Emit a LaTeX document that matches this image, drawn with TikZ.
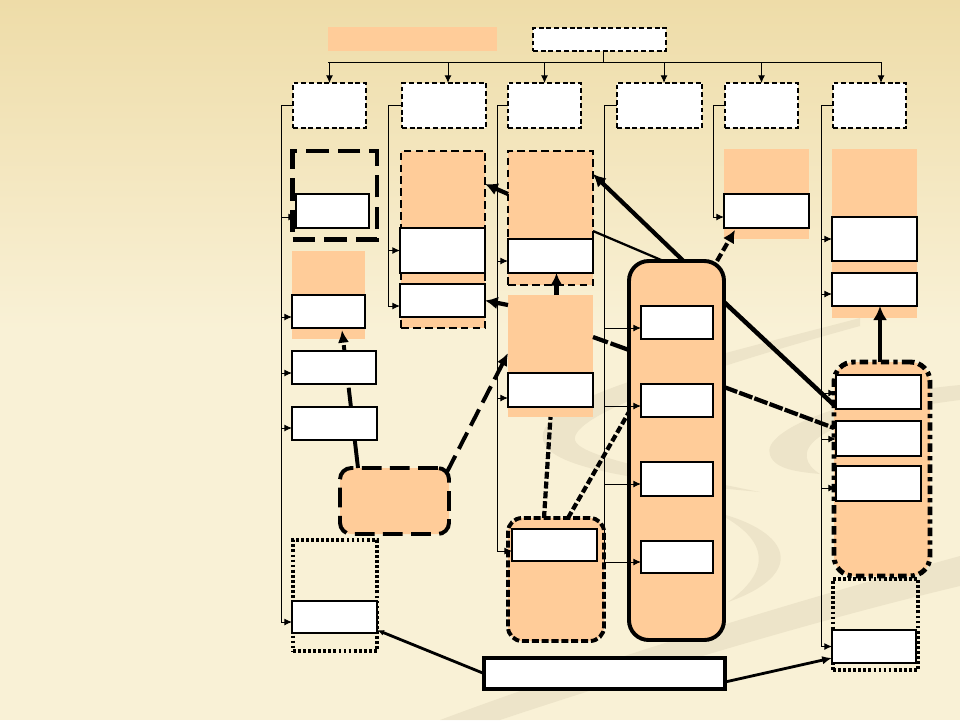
\documentclass[tikz,border=0pt]{standalone}
\usepackage{tikz}
\usetikzlibrary{arrows.meta}
\usetikzlibrary{calc}
\usetikzlibrary{positioning}
\usetikzlibrary{fit}

\definecolor{peach}{HTML}{FFCC99}
\definecolor{paper}{HTML}{F9F1D6}
\definecolor{sand}{HTML}{EEDCA8}
\definecolor{swirl}{HTML}{D9CEB2}

\begin{document}
\begin{tikzpicture}[
  x=0.25mm, y=-0.25mm,
  > = {Latex[length=5.5pt,width=5pt]},
  box/.style = {inner sep=0pt, outer sep=0pt},
  wbox/.style = {box, draw, fill=white, line width=0.9pt},
  hbox/.style = {box, draw, fill=white, line width=0.8pt, dash pattern=on 3.5pt off 2pt},
  pbox/.style = {box, fill=peach},
  dpbox/.style = {pbox, draw, line width=1.6pt, dash pattern=on 5.5pt off 3pt},
  dotbox/.style = {box, draw, line width=2.8pt, dash pattern=on 2pt off 1.6pt},
  wire/.style = {line width=0.7pt},
  feed/.style = {wire, ->},
  heavy/.style = {line width=3pt, -{Latex[length=9pt,width=9pt]}},
  chain/.style = {line width=3pt, dash pattern=on 5pt off 2pt},
  faint/.style = {swirl, opacity=0.35}
  ]
	\useasboundingbox (0,0) rectangle (960,720);

	% background
	\shade[top color=sand, bottom color=paper] (0,0) rectangle (960,330);
	\fill[paper] (0,329) rectangle (960,720);
	\fill[faint] (440,720) .. controls (600,660) and (800,600) .. (960,556) -- (960,586) .. controls (800,624) and (620,680) .. (500,720) -- cycle;
	\fill[faint] (860,318) .. controls (700,360) and (520,400) .. (545,445) .. controls (560,470) and (650,482) .. (760,492) .. controls (650,470) and (578,455) .. (575,440) .. controls (570,415) and (700,370) .. (860,326) -- cycle;
	\fill[faint] (960,385) .. controls (850,395) and (760,430) .. (770,455) .. controls (775,470) and (800,472) .. (820,474) .. controls (790,455) and (800,420) .. (960,400) -- cycle;
	\fill[faint] (715,512) .. controls (795,532) and (805,575) .. (728,602) .. controls (770,572) and (772,540) .. (715,512) -- cycle;

	% top
	\node[pbox, fit={(328,27) (497,51)}] (title) {};
	\node[hbox, fit={(533,28) (666,51)}] (top) {};

	\node[hbox, fit={(293,83) (366,128)}] (h1) {};
	\node[hbox, fit={(402,83) (486,128)}] (h2) {};
	\node[hbox, fit={(508,83) (581,128)}] (h3) {};
	\node[hbox, fit={(617,83) (702,128)}] (h4) {};
	\node[hbox, fit={(725,83) (798,128)}] (h5) {};
	\node[hbox, fit={(833,83) (906,128)}] (h6) {};

	\coordinate (busL) at (328,62);
	\coordinate (busR) at (881,62);
	\draw[wire] ([xshift=1.1mm]top.south) -- ([xshift=1.1mm]top.south |- busL);
	\draw[wire] (busL) -- (busR);
	\foreach \h/\d in {h1/0,h2/4,h3/0,h4/4.5,h5/0,h6/11.5} {
		\coordinate (tip) at ([xshift=\d*0.25mm]\h.north);
		\draw[feed] (tip |- busL) -- (tip);
	}

	\coordinate (t1) at (281,0);
	\coordinate (t2) at (388,0);
	\coordinate (t3) at (497,0);
	\coordinate (t4) at (604,0);
	\coordinate (t5) at (713,0);
	\coordinate (t6) at (821,0);

	% groups
	\node[box, draw, line width=3.5pt, dash pattern=on 16pt off 6.5pt, fit={(292.5,151) (377,239.5)}] (f1) {};
	\node[pbox, fit={(292,251) (365,339)}] (o1) {};
	\node[pbox, draw, line width=2.8pt, rounded corners=8pt, dash pattern=on 14pt off 6pt, fit={(340,468) (449,534)}] (r1) {};
	\node[dotbox, fit={(293,540) (377,651)}] (p1) {};
	\node[dpbox, fit={(401,151) (485,328)}] (d2) {};
	\node[dpbox, fit={(508,151) (593,285)}] (d3) {};
	\node[pbox, fit={(508,295) (593,417)}] (o3) {};
	\node[pbox, draw, line width=2.8pt, rounded corners=10pt, dash pattern=on 5pt off 2pt, fit={(508,518) (604,641)}] (r3) {};
	\node[pbox, draw, line width=2.8pt, rounded corners=14pt, fit={(629,261) (724,640)}] (core) {};
	\node[pbox, fit={(724,149) (809,239)}] (o5) {};
	\node[pbox, fit={(832,149) (917,318)}] (o6) {};
	\node[pbox, draw, line width=3.5pt, rounded corners=14pt, dash pattern=on 6pt off 3pt on 3pt off 3pt, fit={(834,362) (930,576)}] (r6) {};
	\node[dotbox, fit={(833,579) (918,670)}] (p6) {};

	\draw[line width=2.8pt, dash pattern=on 27pt off 3.5pt, -{Latex[length=9pt,width=8pt]}] ($(r1.north west)+(18,0)$) -- ($(o1.south)+(13.5,-9)$);

	% boxes
	\node[wbox, fit={(296,194) (369,228)}] (w11) {};
	\node[wbox, fit={(292,295) (365,328)}] (w12) {};
	\node[wbox, fit={(292,351) (376,384)}] (w13) {};
	\node[wbox, fit={(292,407) (377,440)}] (w14) {};
	\node[wbox, fit={(292,601) (377,633)}] (w15) {};
	\node[wbox, fit={(400,228) (485,273)}] (w21) {};
	\node[wbox, fit={(400,284) (485,317)}] (w22) {};
	\node[wbox, fit={(508,239) (593,273)}] (w31) {};
	\node[wbox, fit={(508,373) (593,407)}] (w32) {};
	\node[wbox, fit={(512,529) (597,561)}] (w33) {};
	\node[wbox, fit={(641,306) (713,339)}] (w41) {};
	\node[wbox, fit={(641,384) (713,417)}] (w42) {};
	\node[wbox, fit={(641,462) (713,496)}] (w43) {};
	\node[wbox, fit={(641,541) (713,573)}] (w44) {};
	\node[wbox, fit={(724,194) (809,228)}] (w51) {};
	\node[wbox, fit={(832,217) (917,261)}] (w61) {};
	\node[wbox, fit={(832,273) (917,306)}] (w62) {};
	\node[wbox, fit={(836,375) (921,409)}] (w63) {};
	\node[wbox, fit={(836,421) (921,456)}] (w64) {};
	\node[wbox, fit={(836,466) (921,501)}] (w65) {};
	\node[wbox, fit={(832,630) (916,663)}] (w66) {};
	\node[wbox, line width=2.8pt, fit={(484,658) (725,689)}] (bot) {};

	% feeds
	\foreach \t/\h/\list in {
		t1/h1/{w11/6,w12/5.5,w13/5.5,w14/4.5,w15/5},
		t2/h2/{w21/0,w22/5.5},
		t3/h3/{w31/5,w32/8,w33/6},
		t4/h4/{w41/5.5,w42/5.5,w43/5,w44/5},
		t5/h5/{w51/6},
		t6/h6/{w61/0,w62/4.5,w63/1,w64/0.5,w65/4.5,w66/0}} {
		\foreach \b/\s in \list {
			\coordinate (tip) at ([yshift=-\s*0.25mm]\b.west);
			\draw[feed] (tip -| \t) -- (tip);
		}
		\draw[wire] (\h.west) -| (tip -| \t);
	}

	% links
	\draw[line width=2.8pt, dash pattern=on 13pt off 5.5pt, -{Latex[length=9pt,width=8pt]}] ($(r1.north east)+(-2,4)$) -- ($(o3.north west)+(0,58)$);
	\draw[line width=2pt, -{Latex[length=5pt,width=4pt]}] (bot.west) -- ($(w15.south east)+(0,-3)$);
	\draw[line width=2pt, -{Latex[length=7pt,width=6pt]}] ($(bot.south east)+(0,-7)$) -- ($(w66.south west)+(0,-5)$);
	\draw[heavy] ($(d3.north west)+(0,43)$) -- ($(d2.north east)+(0,33)$);
	\draw[heavy] ($(o3.north west)+(0,10)$) -- (w22.east);
	\draw[heavy] ($(o3.north)+(6,0)$) -- ($(w31.south)+(6,0)$);
	\draw[heavy] ($(core.north)+(7,0)$) -- ($(d3.north east)+(0,23)$);
	\draw[line width=1.6pt] ($(core.north)+(-13,0)$) -- ($(d3.north east)+(0,80)$);
	\draw[line width=3pt, dash pattern=on 6pt off 2.5pt, -{Latex[length=9pt,width=9pt]}] ($(core.north east)+(-7,0)$) -- ($(w51.south west)+(11,2)$);
	\draw[line width=3pt, dash pattern=on 14pt off 2pt] ($(core.north west)+(0,89)$) -- ($(o3.north east)+(0,42)$);
	\draw[line width=3.2pt] ($(core.north east)+(0,41)$) -- ($(r6.north west)+(0,43)$);
	\draw[line width=3pt, dash pattern=on 10pt off 1.5pt] ($(core.north east)+(0,126)$) -- ($(r6.north west)+(0,66)$);
	\draw[chain] ($(r3.north)+(-12,0)$) -- (o3.south);
	\draw[chain] ($(r3.north)+(12,0)$) -- ($(core.north west)+(0,151)$);
	\coordinate (up) at ($(w62.south)+(5.5,0)$);
	\draw[line width=3.5pt, -{Latex[length=10pt,width=10pt]}] (up |- r6.north) -- (up);
\end{tikzpicture}
\end{document}
